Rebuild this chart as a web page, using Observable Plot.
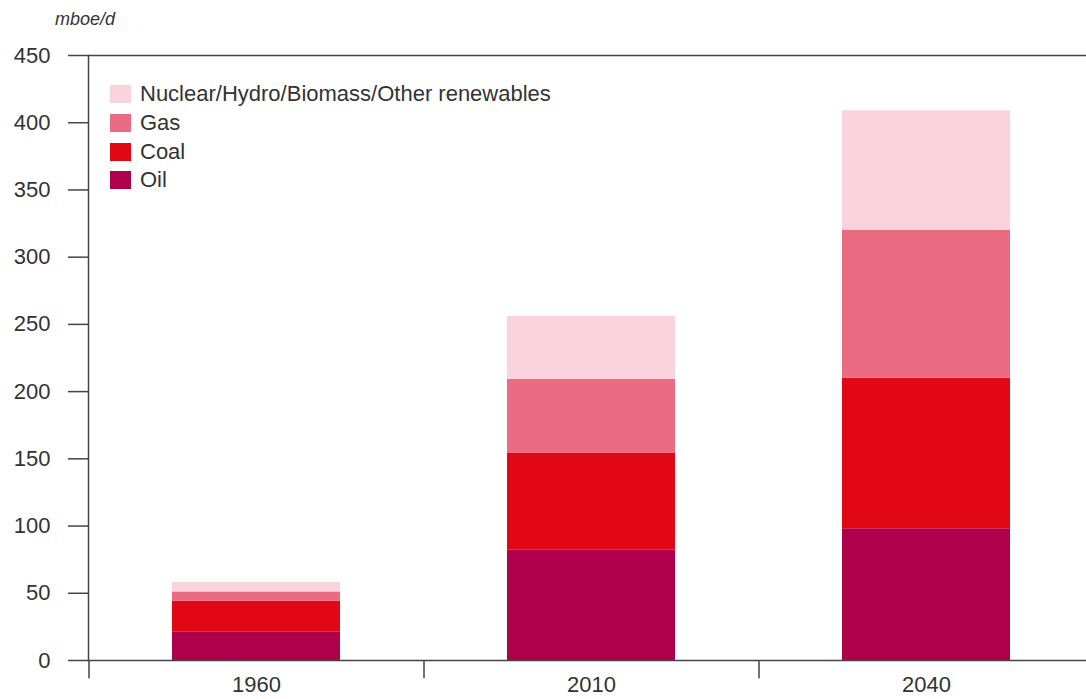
<!DOCTYPE html>
<html>
<head>
<meta charset="utf-8">
<script src="https://cdn.jsdelivr.net/npm/d3@7"></script>
<script src="https://cdn.jsdelivr.net/npm/@observablehq/plot@0.6"></script>
<style>
  body { margin: 0; background: #fff; font-family: "Liberation Sans", Arial, sans-serif; }
  #wrap { position: relative; width: 1086px; height: 699px; overflow: hidden; }
  #unit { position: absolute; left: 55px; top: 9px; font-style: italic; font-size: 18px; color: #333; line-height: 20px; }
  #legend { position: absolute; left: 110px; top: 80px; font-size: 22px; color: #333; }
  .row { display: flex; align-items: center; height: 28.7px; }
  .sw { width: 21px; height: 18px; margin-right: 9px; }
  #chart { position: absolute; left: 0; top: 0; }
</style>
</head>
<body>
<div id="wrap">
  <div id="chart"></div>
  <div id="unit">mboe/d</div>
  <div id="legend"></div>
</div>
<script>
const years = ["1960", "2010", "2040"];
const sources = ["Oil", "Coal", "Gas", "Nuclear/Hydro/Biomass/Other renewables"];
const oil = [21, 82, 98];
const coal = [23, 72, 112];
const gas = [7, 55, 110];
const other = [7, 47, 89];
const colors = ["#af004b", "#e20714", "#eb6b82", "#f9d4df"];
const yTicks = [0, 50, 100, 150, 200, 250, 300, 350, 400, 450];

const series = [oil, coal, gas, other];
const data = [];
years.forEach((yr, i) => {
  sources.forEach((s, j) => data.push({ year: yr, source: s, value: series[j][i] }));
});

const xRange = [88, 1093];
const step = (xRange[1] - xRange[0]) / years.length;

const chart = Plot.plot({
  width: 1086,
  height: 699,
  marginLeft: 88,
  marginRight: 0,
  marginTop: 55,
  marginBottom: 39,
  style: { fontFamily: "Liberation Sans, Arial, sans-serif", fontSize: "22px", color: "#333", background: "transparent", overflow: "visible" },
  x: { domain: years, range: xRange, paddingInner: 0.5, paddingOuter: 0.25, label: null },
  y: { domain: [0, 450], label: null },
  color: { domain: sources, range: colors },
  marks: [
    Plot.barY(data, { x: "year", y: "value", fill: "source", order: sources }),
    Plot.ruleY([0, 450], { stroke: "#444", strokeWidth: 1.5 }),
    Plot.frame({ anchor: "left", stroke: "#444", strokeWidth: 1.5 }),
    Plot.ruleX(years, { x: d => d, dx: -step / 2, y1: 0, y2: -13.5, stroke: "#444", strokeWidth: 1.5 }),
    Plot.axisY({ ticks: yTicks, tickSize: 20, tickPadding: 18, tickFormat: d => String(d), stroke: "#444", strokeWidth: 1.5, fill: "#333", label: null }),
    Plot.axisX({ tickSize: 0, tickPadding: 16, label: null, fill: "#333" })
  ]
});
document.getElementById("chart").appendChild(chart);

const legend = document.getElementById("legend");
sources.slice().reverse().forEach(s => {
  const row = document.createElement("div");
  row.className = "row";
  const sw = document.createElement("div");
  sw.className = "sw";
  sw.style.background = colors[sources.indexOf(s)];
  const t = document.createElement("span");
  t.textContent = s;
  row.appendChild(sw);
  row.appendChild(t);
  legend.appendChild(row);
});
</script>
</body>
</html>
